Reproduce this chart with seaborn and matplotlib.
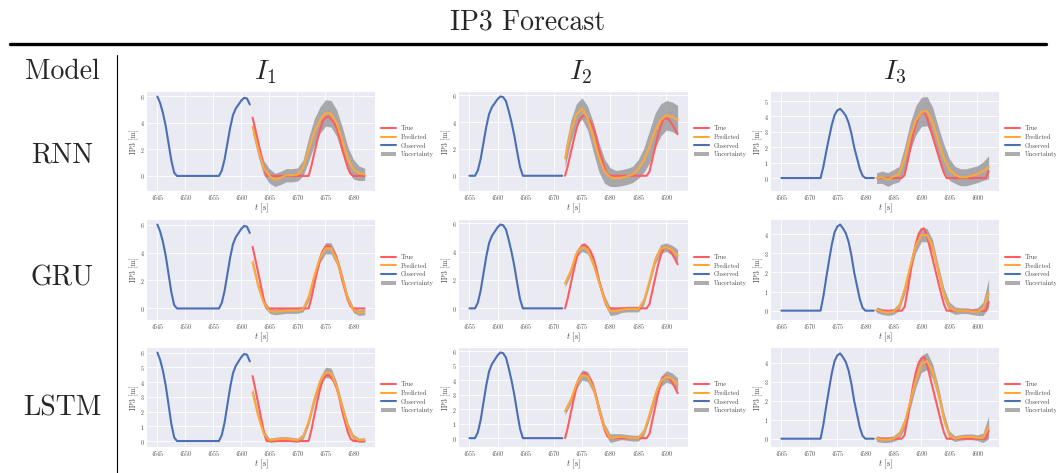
import numpy as np
import matplotlib
matplotlib.use("Agg")
import matplotlib.pyplot as plt
from matplotlib.lines import Line2D
from matplotlib.ticker import MultipleLocator
import seaborn as sns

# ---------------------------------------------------------------- labels
models = ["RNN", "GRU", "LSTM"]
intervals = ["I1", "I2", "I3"]
interval_titles = [r"$I_1$", r"$I_2$", r"$I_3$"]
series_labels = ["True", "Predicted", "Observed", "Uncertainty"]

# window start [s] of each interval and sampling steps [s]
window_starts = [4545, 4555, 4565]
obs_step = 0.5
true_step = 0.5
pred_step = 1.0
forecast_offset = 17.0

# ---------------------------------------------------------------- observed IP3 [m]
observed_I1 = [6.0, 5.5, 4.75, 3.75, 2.45, 1.15, 0.25, 0, 0, 0, 0, 0, 0, 0, 0, 0, 0, 0,
               0, 0, 0, 0, 0, 0.4, 1.25, 2.45, 3.65, 4.6, 5.1, 5.4, 5.7, 5.9, 5.85, 5.4]
observed_I2 = [0, 0, 0, 0.4, 1.25, 2.45, 3.65, 4.6, 5.1, 5.4, 5.7, 5.9, 5.85, 5.55, 4.8,
               3.95, 2.95, 1.75, 0.65, 0, 0, 0, 0, 0, 0, 0, 0, 0, 0, 0, 0, 0, 0, 0]
observed_I3 = [0, 0, 0, 0, 0, 0, 0, 0, 0, 0, 0, 0, 0, 0, 0, 0.75, 1.7, 2.6, 3.45, 4.1,
               4.4, 4.5, 4.3, 4.05, 3.6, 2.9, 2.0, 1.3, 0.6, 0.15, 0, 0, 0, 0]

# ---------------------------------------------------------------- true IP3 [m] over the forecast horizon
true_I1 = [4.4, 3.5, 2.55, 1.6, 0.65, 0, 0, 0, 0, 0, 0, 0, 0, 0, 0, 0, 0, 0, 0, 0, 0,
           0.75, 1.7, 2.6, 3.45, 4.1, 4.4, 4.5, 4.3, 4.05, 3.6, 2.9, 2.0, 1.3, 0.6, 0.15,
           0, 0, 0, 0, 0]
true_I2 = [0, 0.75, 1.7, 2.6, 3.45, 4.1, 4.4, 4.5, 4.3, 4.05, 3.6, 2.9, 2.0, 1.3, 0.6, 0.15,
           0, 0, 0, 0, 0, 0, 0, 0, 0, 0, 0, 0, 0, 0,
           0.3, 1.2, 2.1, 3.0, 3.7, 4.2, 4.3, 4.15, 3.85, 3.5, 3.1]
true_I3 = [0, 0, 0, 0, 0, 0, 0, 0, 0, 0,
           0.2, 1.0, 1.9, 2.8, 3.5, 4.0, 4.25, 4.3, 3.9, 3.3, 2.7, 2.1, 1.5, 0.9, 0.35, 0,
           0, 0, 0, 0, 0, 0, 0, 0, 0, 0, 0, 0, 0, 0, 0.45]

# ---------------------------------------------------------------- predicted mean and uncertainty half-width
pred_RNN_I1 = [3.7, 2.0, 0.6, 0.0, -0.3, -0.15, 0.05, 0.05, 0.1, 0.6, 2.0, 3.3, 4.2, 4.75,
               4.7, 4.0, 2.7, 1.3, 0.5, 0.2, 0.12]
hw_RNN_I1 = [0.5, 0.55, 0.55, 0.55, 0.5, 0.5, 0.5, 0.5, 0.5, 0.6, 0.9, 1.0, 1.0, 1.0, 1.0,
             1.0, 1.0, 0.9, 0.75, 0.55, 0.45]
pred_GRU_I1 = [3.3, 1.6, 0.4, -0.15, -0.25, -0.2, -0.15, -0.15, -0.15, -0.05, 0.8, 2.3, 3.6,
               4.3, 4.3, 3.5, 2.2, 0.7, -0.1, -0.3, -0.25]
hw_GRU_I1 = [0.3, 0.25, 0.22, 0.2, 0.2, 0.2, 0.2, 0.2, 0.2, 0.2, 0.25, 0.3, 0.35, 0.4, 0.4,
             0.35, 0.3, 0.25, 0.2, 0.2, 0.2]
pred_LSTM_I1 = [3.3, 1.7, 0.5, 0.05, 0.1, 0.15, 0.15, 0.1, 0.05, 0.3, 1.3, 2.8, 4.0, 4.65,
                4.6, 3.7, 2.3, 1.0, 0.25, 0.05, 0.07]
hw_LSTM_I1 = [0.3, 0.25, 0.2, 0.15, 0.15, 0.15, 0.15, 0.15, 0.15, 0.2, 0.25, 0.3, 0.3, 0.35,
              0.35, 0.3, 0.3, 0.25, 0.2, 0.15, 0.15]

pred_RNN_I2 = [1.3, 3.3, 4.55, 5.0, 4.3, 2.9, 1.4, 0.35, -0.1, -0.2, -0.15, -0.05, 0.1, 0.5,
               1.15, 2.15, 3.35, 4.15, 4.5, 4.4, 4.15]
hw_RNN_I2 = [0.7, 0.8, 0.8, 0.8, 0.9, 1.1, 1.1, 0.9, 0.7, 0.6, 0.6, 0.6, 0.6, 0.7, 0.9, 1.2,
             1.3, 1.2, 1.1, 1.1, 1.1]
pred_GRU_I2 = [1.75, 2.6, 3.85, 4.3, 4.15, 3.2, 1.9, 0.6, -0.2, -0.2, -0.1, -0.05, -0.05,
               -0.05, 0.5, 1.9, 3.4, 4.2, 4.3, 4.1, 3.7]
hw_GRU_I2 = [0.25, 0.25, 0.25, 0.3, 0.3, 0.3, 0.3, 0.3, 0.3, 0.25, 0.2, 0.2, 0.2, 0.2, 0.25,
             0.3, 0.3, 0.3, 0.3, 0.35, 0.45]
pred_LSTM_I2 = [1.85, 2.6, 3.7, 4.35, 4.25, 3.5, 2.1, 0.7, 0.0, 0.05, 0.1, 0.05, 0.0, 0.0,
                0.4, 1.6, 2.95, 3.9, 4.25, 4.1, 3.7]
hw_LSTM_I2 = [0.25, 0.25, 0.3, 0.35, 0.35, 0.35, 0.3, 0.3, 0.3, 0.25, 0.2, 0.2, 0.2, 0.2,
              0.25, 0.3, 0.35, 0.35, 0.4, 0.4, 0.45]

pred_RNN_I3 = [0.0, 0.05, -0.1, 0.1, 0.25, 1.25, 2.7, 3.75, 4.3, 4.35, 3.65, 2.4, 1.3, 0.55,
               0.2, 0.05, 0.05, 0.15, 0.25, 0.45, 0.7]
hw_RNN_I3 = [0.35, 0.4, 0.45, 0.45, 0.5, 0.8, 0.9, 0.95, 0.95, 0.95, 0.95, 0.95, 0.9, 0.7,
             0.55, 0.55, 0.55, 0.55, 0.55, 0.6, 0.75]
pred_GRU_I3 = [0.05, -0.05, -0.1, -0.05, 0.2, 1.1, 2.3, 3.4, 3.95, 3.95, 3.35, 2.1, 0.9, 0.2,
               0.0, 0.0, 0.0, -0.05, -0.05, 0.1, 0.9]
hw_GRU_I3 = [0.15, 0.15, 0.15, 0.15, 0.2, 0.25, 0.3, 0.35, 0.35, 0.35, 0.35, 0.3, 0.3, 0.25,
             0.2, 0.15, 0.15, 0.15, 0.2, 0.35, 0.75]
pred_LSTM_I3 = [0.0, -0.05, -0.05, 0.0, 0.2, 0.8, 1.95, 3.1, 3.95, 4.1, 3.55, 2.45, 1.1, 0.2,
                0.0, 0.07, 0.1, 0.1, 0.05, 0.05, 0.6]
hw_LSTM_I3 = [0.15, 0.15, 0.15, 0.15, 0.2, 0.3, 0.35, 0.4, 0.45, 0.45, 0.4, 0.35, 0.3, 0.2,
              0.15, 0.15, 0.15, 0.15, 0.15, 0.25, 0.6]

# y tick spacing for each (model, interval) panel
ytick_steps = {"RNN": [2, 2, 1], "GRU": [2, 2, 1], "LSTM": [1, 1, 1]}

observed = {"I1": observed_I1, "I2": observed_I2, "I3": observed_I3}
true_vals = {"I1": true_I1, "I2": true_I2, "I3": true_I3}
predicted = {
    ("RNN", "I1"): (pred_RNN_I1, hw_RNN_I1), ("GRU", "I1"): (pred_GRU_I1, hw_GRU_I1),
    ("LSTM", "I1"): (pred_LSTM_I1, hw_LSTM_I1),
    ("RNN", "I2"): (pred_RNN_I2, hw_RNN_I2), ("GRU", "I2"): (pred_GRU_I2, hw_GRU_I2),
    ("LSTM", "I2"): (pred_LSTM_I2, hw_LSTM_I2),
    ("RNN", "I3"): (pred_RNN_I3, hw_RNN_I3), ("GRU", "I3"): (pred_GRU_I3, hw_GRU_I3),
    ("LSTM", "I3"): (pred_LSTM_I3, hw_LSTM_I3),
}

# ---------------------------------------------------------------- style
sns.set_theme(style="darkgrid")
plt.rcParams["font.family"] = ["cmr10", "DejaVu Serif"]
plt.rcParams["mathtext.fontset"] = "cm"
plt.rcParams["axes.formatter.use_mathtext"] = True
plt.rcParams["axes.unicode_minus"] = False

TRUE_C = "#ff5c61"
PRED_C = "#ffa83a"
OBS_C = "#4a6fb3"
BAND_C = "#8a8a8e"

W, H = 1056, 473
fig = plt.figure(figsize=(W / 100, H / 100), dpi=100)
fig.patch.set_facecolor("white")


def px_rect(left, top, right, bottom):
    return [left / W, 1 - bottom / H, (right - left) / W, (bottom - top) / H]


col_px = [(147, 375), (459, 688), (771, 999)]
row_px = [(92, 191), (220, 320), (348, 447)]

for r, model in enumerate(models):
    for c, key in enumerate(intervals):
        ax = fig.add_axes(px_rect(col_px[c][0], row_px[r][0], col_px[c][1], row_px[r][1]))
        start = window_starts[c]
        obs = np.asarray(observed[key])
        tru = np.asarray(true_vals[key])
        mean, hw = (np.asarray(v) for v in predicted[(model, key)])
        t_obs = start + obs_step * np.arange(len(obs))
        t_true = start + forecast_offset + true_step * np.arange(len(tru))
        t_pred = start + forecast_offset + pred_step * np.arange(len(mean))

        band = ax.fill_between(t_pred, mean - hw, mean + hw, color=BAND_C, alpha=0.7,
                               linewidth=0, zorder=1)
        sns.lineplot(x=t_true, y=tru, ax=ax, color=TRUE_C, linewidth=1.5, zorder=3)
        sns.lineplot(x=t_pred, y=mean, ax=ax, color=PRED_C, linewidth=1.5, zorder=4)
        sns.lineplot(x=t_obs, y=obs, ax=ax, color=OBS_C, linewidth=1.5, zorder=3)

        ax.xaxis.set_major_locator(MultipleLocator(5))
        ax.yaxis.set_major_locator(MultipleLocator(ytick_steps[model][c]))
        ax.tick_params(labelsize=4.2, pad=1.5, length=0)
        for lab in ax.get_xticklabels() + ax.get_yticklabels():
            lab.set_color("#444444")
        ax.set_xlabel(r"$t$ [s]", fontsize=6, labelpad=0, color="#444444")
        ax.set_ylabel("IP3 [m]", fontsize=5.5, labelpad=0.5, color="#444444")
        for s in ax.spines.values():
            s.set_visible(False)
        ax.grid(color="white", linewidth=0.6)

        handles = [Line2D([], [], color=TRUE_C, lw=1.5), Line2D([], [], color=PRED_C, lw=1.5),
                   Line2D([], [], color=OBS_C, lw=1.5), band]
        leg = ax.legend(handles, series_labels, loc="center left", bbox_to_anchor=(1.015, 0.5),
                        frameon=False, fontsize=4.5, handlelength=2.4, handletextpad=0.7,
                        labelspacing=0.45, borderaxespad=0)
        for txt in leg.get_texts():
            txt.set_color("#444444")

# ---------------------------------------------------------------- table frame
BIG = 20
fig.text(528 / W, 1 - 22 / H, "IP3 Forecast", ha="center", va="center", fontsize=BIG)
fig.add_artist(Line2D([10 / W, 1046 / W], [1 - 44 / H, 1 - 44 / H], color="black", lw=2.4))
fig.add_artist(Line2D([117 / W, 117 / W], [1 - 55 / H, 0], color="black", lw=0.8))
fig.text(62 / W, 1 - 72 / H, "Model", ha="center", va="center", fontsize=BIG)
for c, title in enumerate(interval_titles):
    fig.text((265 + 315 * c) / W, 1 - 72 / H, title, ha="center", va="center", fontsize=BIG)
for model, y in zip(models, [155, 278, 408]):
    fig.text(62 / W, 1 - y / H, model, ha="center", va="center", fontsize=BIG)

fig.savefig("out.png", dpi=100, facecolor="white")
